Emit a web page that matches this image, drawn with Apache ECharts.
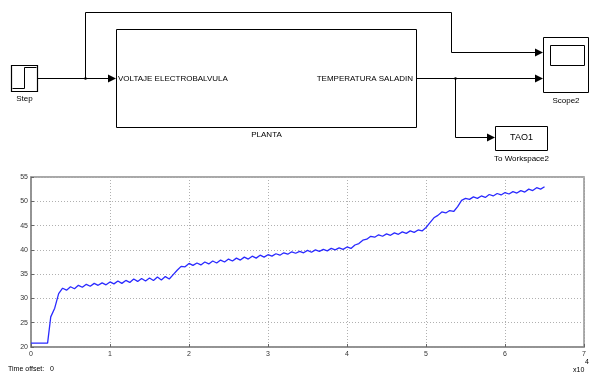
<!DOCTYPE html>
<html>
<head>
<meta charset="utf-8">
<script src="https://cdn.jsdelivr.net/npm/echarts@6/dist/echarts.min.js"></script>
<style>
html,body{margin:0;padding:0;background:#fff;}
#chart{width:589px;height:374px;}
</style>
</head>
<body>
<div id="chart"></div>
<script>
// time in units of 1e4 s
var timeValues = [0, 0.21, 0.25, 0.30, 0.35, 0.40, 0.45, 0.50, 0.55, 0.60, 0.65, 0.70, 0.75, 0.80, 0.85, 0.90, 0.95,
  1.00, 1.05, 1.10, 1.15, 1.20, 1.25, 1.30, 1.35, 1.40, 1.45, 1.50, 1.55, 1.60, 1.65, 1.70, 1.75, 1.80, 1.85, 1.90, 1.95,
  2.00, 2.05, 2.10, 2.15, 2.20, 2.25, 2.30, 2.35, 2.40, 2.45, 2.50, 2.55, 2.60, 2.65, 2.70, 2.75, 2.80, 2.85, 2.90, 2.95,
  3.00, 3.05, 3.10, 3.15, 3.20, 3.25, 3.30, 3.35, 3.40, 3.45, 3.50, 3.55, 3.60, 3.65, 3.70, 3.75, 3.80, 3.85, 3.90, 3.95,
  4.00, 4.05, 4.10, 4.15, 4.20, 4.25, 4.30, 4.35, 4.40, 4.45, 4.50, 4.55, 4.60, 4.65, 4.70, 4.75, 4.80, 4.85, 4.90, 4.95,
  5.00, 5.05, 5.10, 5.15, 5.20, 5.25, 5.30, 5.35, 5.40, 5.45, 5.50, 5.55, 5.60, 5.65, 5.70, 5.75, 5.80, 5.85, 5.90, 5.95,
  6.00, 6.05, 6.10, 6.15, 6.20, 6.25, 6.30, 6.35, 6.40, 6.45, 6.50];
var temperatureValues = [20.8, 20.8, 26.2, 28.0, 31.0, 32.1, 31.7, 32.4, 32.0, 32.7, 32.3, 32.9, 32.5, 33.1, 32.7, 33.2, 32.8,
  33.4, 33.0, 33.6, 33.1, 33.7, 33.3, 34.0, 33.5, 34.1, 33.6, 34.2, 33.7, 34.4, 33.8, 34.5, 34.0, 34.9, 35.8, 36.6, 36.5,
  37.2, 36.8, 37.3, 36.9, 37.5, 37.1, 37.7, 37.3, 37.9, 37.5, 38.1, 37.7, 38.3, 37.9, 38.5, 38.1, 38.7, 38.3, 38.9, 38.5,
  39.0, 38.7, 39.2, 38.9, 39.4, 39.1, 39.6, 39.3, 39.7, 39.4, 39.9, 39.5, 40.0, 39.7, 40.1, 39.8, 40.3, 40.0, 40.4, 40.1,
  40.6, 40.3, 41.0, 41.3, 42.0, 42.2, 42.8, 42.6, 43.1, 42.8, 43.3, 43.0, 43.5, 43.2, 43.7, 43.4, 43.9, 43.6, 44.1, 43.9,
  44.6, 45.6, 46.6, 47.1, 47.8, 47.6, 48.1, 47.9, 48.9, 50.2, 50.6, 50.4, 50.9, 50.6, 51.1, 50.8, 51.4, 51.1, 51.6, 51.3,
  51.8, 51.5, 52.0, 51.7, 52.2, 51.9, 52.5, 52.2, 52.8, 52.5, 53.0];
var xTickLabels = ['0', '1', '2', '3', '4', '5', '6', '7'];
var yTickLabels = ['20', '25', '30', '35', '40', '45', '50', '55'];

var seriesData = timeValues.map(function (t, i) { return [t, temperatureValues[i]]; });

var chart = echarts.init(document.getElementById('chart'), null, {renderer: 'canvas'});
var FONT = 'Liberation Sans';
function line(pts) { return {type: 'polyline', shape: {points: pts}, style: {stroke: '#000', lineWidth: 1, fill: null}, silent: true}; }
function arrowRight(x, y) { return {type: 'polygon', shape: {points: [[x - 8, y - 4], [x, y], [x - 8, y + 4]]}, style: {fill: '#000'}, silent: true}; }
function rect(x, y, w, h, lw) { return {type: 'rect', shape: {x: x, y: y, width: w, height: h}, style: {stroke: '#000', fill: '#fff', lineWidth: lw || 1}, silent: true}; }
function txt(x, y, s, align, size) { return {type: 'text', x: x, y: y, style: {text: s, fill: '#000', font: (size || 8) + 'px "' + FONT + '"', textAlign: align || 'left', textVerticalAlign: 'middle'}, silent: true}; }
function dot(x, y) { return {type: 'circle', shape: {cx: x, cy: y, r: 1.3}, style: {fill: '#000'}, silent: true}; }

var graphics = [
  // Step block
  rect(11.5, 65.5, 26, 26, 1.2),
  line([[12.5, 88.5], [24.5, 88.5], [24.5, 67.5], [36.5, 67.5]]),
  txt(24.5, 98.5, 'Step', 'center'),
  // step -> planta
  line([[38, 78.5], [108, 78.5]]),
  arrowRight(116, 78.5),
  // branch up to top and over to scope
  line([[85.5, 78.5], [85.5, 12.5], [451.5, 12.5], [451.5, 52.5], [535, 52.5]]),
  arrowRight(543, 52.5),
  dot(85.5, 78.5),
  // PLANTA
  rect(116.5, 29.5, 300, 98, 1),
  txt(118, 78.5, 'VOLTAJE ELECTROBALVULA', 'left'),
  txt(413, 78.5, 'TEMPERATURA SALADIN', 'right'),
  txt(266.5, 134.5, 'PLANTA', 'center'),
  // planta -> scope
  line([[417, 78.5], [535, 78.5]]),
  arrowRight(543, 78.5),
  dot(455.5, 78.5),
  line([[455.5, 78.5], [455.5, 137.5], [487, 137.5]]),
  arrowRight(495, 137.5),
  // Scope2
  rect(543.5, 37.5, 45, 55, 1),
  rect(550.5, 45.5, 34, 20, 1),
  txt(566, 100.5, 'Scope2', 'center'),
  // To Workspace
  rect(495.5, 126.5, 52, 24, 1),
  txt(521.5, 137.5, 'TAO1', 'center', 9),
  txt(521.5, 158.5, 'To Workspace2', 'center'),
  // plot footer texts
  {type: 'text', x: 8, y: 369.5, style: {text: 'Time offset:   0', fill: '#000', font: '7px "' + FONT + '"', textVerticalAlign: 'middle'}, silent: true},
  {type: 'text', x: 573, y: 370.5, style: {text: 'x10', fill: '#000', font: '7px "' + FONT + '"', textVerticalAlign: 'middle'}, silent: true},
  {type: 'text', x: 585, y: 362, style: {text: '4', fill: '#000', font: '7px "' + FONT + '"', textVerticalAlign: 'middle'}, silent: true}
];

chart.setOption({
  animation: false,
  backgroundColor: '#fff',
  grid: {left: 31, top: 177, right: 2, bottom: 27, show: true, borderColor: '#8c8c8c', borderWidth: 1.5, backgroundColor: '#fff'},
  xAxis: {
    type: 'value', min: 0, max: 7, interval: 1,
    axisLine: {show: true, lineStyle: {color: '#8c8c8c', width: 1.5}},
    axisTick: {show: true, inside: true, length: 3, lineStyle: {color: '#666'}},
    axisLabel: {color: '#333', fontSize: 7, fontFamily: FONT, margin: 4,
      formatter: function (v) { return xTickLabels[Math.round(v)]; }},
    splitLine: {show: true, lineStyle: {color: '#b0b0b0', type: [1, 2], width: 1}}
  },
  yAxis: {
    type: 'value', min: 20, max: 55, interval: 5,
    axisLine: {show: true, lineStyle: {color: '#8c8c8c', width: 1.5}},
    axisTick: {show: true, inside: true, length: 3, lineStyle: {color: '#666'}},
    axisLabel: {color: '#333', fontSize: 7, fontFamily: FONT, margin: 3,
      formatter: function (v) { return yTickLabels[Math.round((v - 20) / 5)]; }},
    splitLine: {show: true, lineStyle: {color: '#b0b0b0', type: [1, 2], width: 1}}
  },
  series: [{
    type: 'line', data: seriesData, showSymbol: false, symbol: 'none',
    lineStyle: {color: '#2a2aff', width: 1.3}, z: 3
  }],
  graphic: graphics
});
</script>
</body>
</html>
